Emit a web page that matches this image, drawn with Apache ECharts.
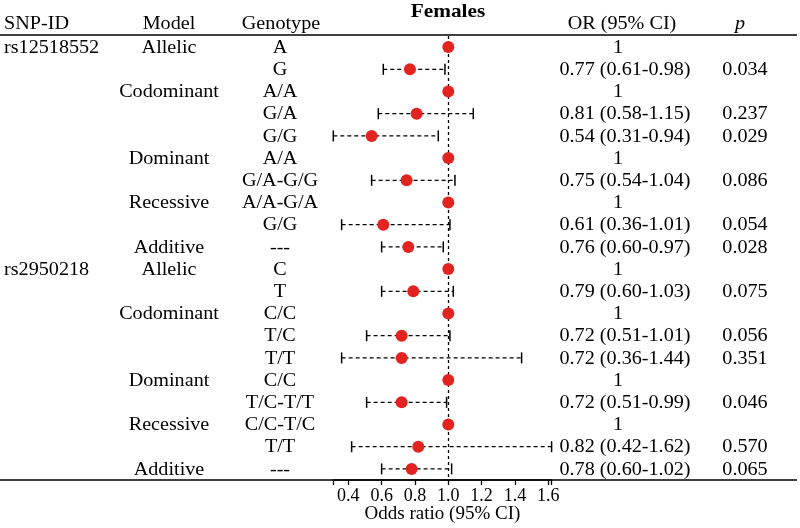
<!DOCTYPE html>
<html>
<head>
<meta charset="utf-8">
<script src="https://cdn.jsdelivr.net/npm/echarts@6/dist/echarts.min.js"></script>
<style>html,body{margin:0;padding:0;background:#fff}#chart{width:800px;height:528px}</style>
</head>
<body>
<div id="chart"></div>
<script>
const titleText = 'Females';
const headerLabels = ['SNP-ID', 'Model', 'Genotype', 'OR (95% CI)', 'p'];
const snpLabels = ['rs12518552','','','','','','','','','','rs2950218','','','','','','','','',''];
const models = ['Allelic','','Codominant','','','Dominant','','Recessive','','Additive',
                'Allelic','','Codominant','','','Dominant','','Recessive','','Additive'];
const genotypes = ['A','G','A/A','G/A','G/G','A/A','G/A-G/G','A/A-G/A','G/G','---',
                   'C','T','C/C','T/C','T/T','C/C','T/C-T/T','C/C-T/C','T/T','---'];
const orValues = [1,0.77,1,0.81,0.54,1,0.75,1,0.61,0.76,1,0.79,1,0.72,0.72,1,0.72,1,0.82,0.78];
const ciLower = [null,0.61,null,0.58,0.31,null,0.54,null,0.36,0.60,null,0.60,null,0.51,0.36,null,0.51,null,0.42,0.60];
const ciUpper = [null,0.98,null,1.15,0.94,null,1.04,null,1.01,0.97,null,1.03,null,1.01,1.44,null,0.99,null,1.62,1.02];
const pValues = ['','0.034','','0.237','0.029','','0.086','','0.054','0.028',
                 '','0.075','','0.056','0.351','','0.046','','0.570','0.065'];
const tickLabels = [0.4,0.6,0.8,1.0,1.2,1.4,1.6];
const axisMin = 0.31, axisMax = 1.62;
const refValue = 1;
const axisTitle = 'Odds ratio (95% CI)';

const FONT = '"Liberation Serif", "Times New Roman", serif';
const SX = 1.12;

const orTexts = orValues.map((v, i) => ciLower[i] == null ? '1' :
  v.toFixed(2) + ' (' + ciLower[i].toFixed(2) + '-' + ciUpper[i].toFixed(2) + ')');

const rows = orValues.map((v, i) => i);
const pointData = orValues.map((v, i) => [v, i]);
const ciData = orValues.map((v, i) => [ciLower[i], ciUpper[i], i]).filter(d => d[0] != null);

function txt(x, y, text, align, extra) {
  return {
    type: 'text', x: x, y: y, scaleX: SX, silent: true,
    style: Object.assign({
      text: text, x: 0, y: 0, font: '18px ' + FONT, fill: '#000',
      align: align, textAlign: align, verticalAlign: 'middle', textVerticalAlign: 'middle'
    }, extra || {})
  };
}

const chart = echarts.init(document.getElementById('chart'), null, {renderer: 'canvas'});
chart.setOption({
  animation: false,
  backgroundColor: '#fff',
  grid: {left: 333.3, width: 218.3, top: 36, bottom: 48, containLabel: false, outerBoundsMode: 'none'},
  xAxis: {
    type: 'value', min: axisMin, max: axisMax, position: 'bottom',
    splitLine: {show: false},
    axisLine: {show: true, onZero: false, lineStyle: {color: '#000', width: 1.5}},
    axisTick: {show: true, inside: false, length: 5, lineStyle: {color: '#000', width: 1.3},
      customValues: [axisMin].concat(tickLabels, [axisMax])},
    axisLabel: {customValues: tickLabels, formatter: v => v.toFixed(1), color: '#000',
      fontFamily: FONT, fontSize: 18, margin: 7},
    name: axisTitle, nameLocation: 'middle', nameGap: 25, nameMoveOverlap: false,
    nameTextStyle: {color: '#000', fontFamily: FONT, fontSize: 19}
  },
  yAxis: {
    type: 'value', min: -0.5, max: 19.5, inverse: true, show: false
  },
  graphic: [
    {type: 'line', shape: {x1: 0, y1: 35, x2: 797, y2: 35}, style: {stroke: '#000', lineWidth: 1.5}},
    {type: 'line', shape: {x1: 0, y1: 480, x2: 797, y2: 480}, style: {stroke: '#000', lineWidth: 1.5}},
    txt(448, 12, titleText, 'center', {font: 'bold 19px ' + FONT}),
    txt(4, 24, headerLabels[0], 'left'),
    txt(169, 24, headerLabels[1], 'center'),
    txt(281, 24, headerLabels[2], 'center'),
    txt(622, 24, headerLabels[3], 'center'),
    txt(740, 24, headerLabels[4], 'center', {font: 'italic 18px ' + FONT})
  ],
  series: [
    {
      type: 'custom',
      silent: true,
      data: ciData,
      encode: {x: [0, 1], y: 2},
      z: 2,
      renderItem: function (params, api) {
        const a = api.coord([api.value(0), api.value(2)]);
        const b = api.coord([api.value(1), api.value(2)]);
        const h = 5.5;
        return {
          type: 'group',
          children: [
            {type: 'line', shape: {x1: a[0], y1: a[1], x2: b[0], y2: b[1]},
              style: {stroke: '#000', lineWidth: 1.3, lineDash: [4, 3]}},
            {type: 'line', shape: {x1: a[0], y1: a[1] - h, x2: a[0], y2: a[1] + h},
              style: {stroke: '#000', lineWidth: 1.5}},
            {type: 'line', shape: {x1: b[0], y1: b[1] - h, x2: b[0], y2: b[1] + h},
              style: {stroke: '#000', lineWidth: 1.5}}
          ]
        };
      }
    },
    {
      type: 'scatter',
      data: pointData,
      symbol: 'circle',
      symbolSize: 12,
      z: 4,
      itemStyle: {color: '#e3231f', opacity: 1},
      markLine: {
        silent: true, symbol: 'none', label: {show: false},
        lineStyle: {color: '#000', type: [3, 3], width: 1.3},
        data: [{xAxis: refValue}],
        z: 1
      }
    },
    {
      type: 'custom',
      silent: true,
      clip: false,
      data: rows,
      encode: {y: 0},
      renderItem: function (params, api) {
        const i = api.value(0);
        const y = api.coord([refValue, i])[1] + 1;
        const orX = orTexts[i] === '1' ? 618 : 625;
        return {
          type: 'group',
          children: [
            txt(4, y, snpLabels[i], 'left'),
            txt(169, y, models[i], 'center'),
            txt(280, y, genotypes[i], 'center'),
            txt(orX, y, orTexts[i], 'center'),
            txt(745, y, pValues[i], 'center')
          ]
        };
      }
    }
  ]
});
</script>
</body>
</html>
